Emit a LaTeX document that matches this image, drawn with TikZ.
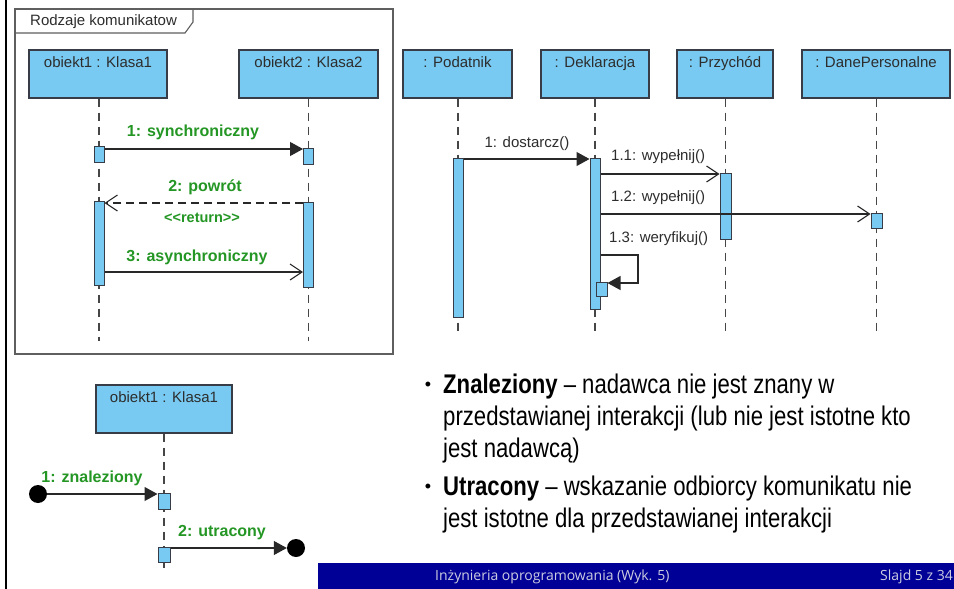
\documentclass[tikz,border=0pt]{standalone}
\usepackage{fontspec}
\setmainfont{Liberation Sans}
\newfontfamily\narrowfont[FakeStretch=0.82]{Liberation Sans}
\newfontfamily\footfont{Open Sans}
\usetikzlibrary{arrows.meta}

\definecolor{objfill}{RGB}{120,202,242}
\definecolor{objline}{RGB}{55,60,70}
\definecolor{objtext}{RGB}{45,45,45}
\definecolor{lifecol}{RGB}{70,70,70}
\definecolor{msgcol}{RGB}{40,40,40}
\definecolor{labgreen}{RGB}{36,150,36}
\definecolor{framecol}{RGB}{95,95,95}
\definecolor{footblue}{RGB}{0,0,150}
\definecolor{foottext}{RGB}{205,205,225}

\begin{document}
\begin{tikzpicture}[x=1pt,y=-1pt,
  objbox/.style={draw=objline, fill=objfill, line width=1.2pt, minimum width=#1, minimum height=48pt, inner sep=0pt},
  objlabel/.style={font=\fontsize{15}{18}\selectfont, text=objtext, inner sep=0pt, anchor=base},
  actbar/.style={draw=objline, fill=objfill, line width=1pt, minimum width=10pt, minimum height=#1, inner sep=0pt},
  lifeline/.style={draw=lifecol, line width=1.2pt, dash pattern=on 8pt off 6pt},
  msg/.style={draw=msgcol, line width=1.1pt},
  synch/.style={msg, -{Triangle[length=13pt,width=14pt]}},
  asynch/.style={msg, -{Straight Barb[length=12pt,width=16pt,line width=1.1pt]}},
  retmsg/.style={asynch, dash pattern=on 8pt off 5pt},
  greenlab/.style={font=\bfseries\fontsize{16}{19}\selectfont, text=labgreen, inner sep=0pt},
  msglab/.style={font=\fontsize{15}{18}\selectfont, text=objtext, inner sep=0pt},
  endpoint/.style={circle, fill=black, minimum size=18pt, inner sep=0pt},
  bodytext/.style={font=\narrowfont\fontsize{27}{32}\selectfont, text=black, inner sep=0pt, anchor=base west},
  bullet/.style={font=\fontsize{18}{20}\selectfont, text=black, inner sep=0pt, anchor=base},
  foottxt/.style={font=\footfont\fontsize{14}{16}\selectfont, text=foottext, inner sep=0pt, anchor=west}
]
\useasboundingbox (0,0) rectangle (954,589);
\fill[white] (0,0) rectangle (954,589);

% slide border on the left
\draw[black, line width=2.6pt] (6,0) -- (6,589);

% ---------- frame "Rodzaje komunikatow" ----------
\draw[framecol, line width=1.3pt] (15,9) rectangle (393,354);
\draw[framecol, line width=1.1pt] (15,33) -- (185,33) -- (193,22) -- (193,9);
\node[objlabel, anchor=base west] (frametitle) at (30,25) {Rodzaje komunikatow};

\node[objbox=138pt] (o1) at (98,74) {};
\node[objlabel] (o1t) at (98,67.5) {obiekt1 : Klasa1};
\node[objbox=139pt] (o2) at (308.5,74) {};
\node[objlabel] (o2t) at (308.5,67.5) {obiekt2 : Klasa2};

\coordinate (o1end) at (99,341);
\coordinate (o2end) at (308.5,341);
\draw[lifeline] (o1.south -| o1end) -- (o1end);
\draw[lifeline] (o2.south -| o2end) -- (o2end);

\node[actbar=16pt] (a1) at (99,154) {};
\node[actbar=16pt] (b1) at (308.5,156) {};
\node[actbar=84pt] (a2) at (99,243) {};
\node[actbar=85pt] (b2) at (308.5,244.5) {};

\coordinate (m1) at (0,149);
\coordinate (m2) at (0,203);
\coordinate (m3) at (0,272);
\draw[synch] (a1.east |- m1) -- (b1.west |- m1);
\draw[retmsg] (b2.west |- m2) -- (a2.east |- m2);
\draw[asynch] (a2.east |- m3) -- (b2.west |- m3);

\node[greenlab] (l1) at (193,132) {1: synchroniczny};
\node[greenlab] (l2) at (205,187) {2: powrót};
\node[greenlab, font=\bfseries\fontsize{14.5}{17}\selectfont] (l2r) at (202,218) {<\kern0pt<return>\kern0pt>};
\node[greenlab] (l3) at (197,257) {3: asynchroniczny};

% ---------- sequence: Podatnik / Deklaracja ----------
\node[objbox=109pt] (pod) at (457.5,74) {};
\node[objlabel] (podt) at (457.5,67.5) {: Podatnik};
\node[objbox=108pt] (dek) at (595,74) {};
\node[objlabel] (dekt) at (595,67.5) {: Deklaracja};
\node[objbox=96pt] (prz) at (725,74) {};
\node[objlabel] (przt) at (725,67.5) {: Przychód};
\node[objbox=148pt] (dan) at (876,74) {};
\node[objlabel] (dant) at (876,67.5) {: DanePersonalne};

\coordinate (podend) at (458,334);
\coordinate (dekend) at (595,334);
\coordinate (przend) at (725.5,334);
\coordinate (danend) at (876.5,334);
\draw[lifeline] (pod.south -| podend) -- (podend);
\draw[lifeline] (dek.south -| dekend) -- (dekend);
\draw[lifeline] (prz.south -| przend) -- (przend);
\draw[lifeline] (dan.south -| danend) -- (danend);

\node[actbar=159pt] (podbar) at (458,237.5) {};
\node[actbar=151pt] (dekbar) at (595,233.5) {};
\node[actbar=66pt, minimum width=11pt] (przbar) at (725.5,206) {};
\node[actbar=15pt, minimum width=11pt] (danbar) at (876.5,220.5) {};
\node[actbar=14pt, minimum width=11pt] (selfbar) at (601.5,289) {};

\coordinate (n1) at (0,159);
\coordinate (n11) at (0,174);
\coordinate (n12) at (0,214);
\coordinate (n13) at (0,255);
\coordinate (n13b) at (0,283);
\coordinate (loopx) at (638,0);
\draw[synch] (podbar.east |- n1) -- (dekbar.west |- n1);
\draw[asynch] (dekbar.east |- n11) -- (przbar.west |- n11);
\draw[asynch] (dekbar.east |- n12) -- (danbar.west |- n12);
\draw[msg, -{Triangle[length=13pt,width=14pt]}] (dekbar.east |- n13) -- (loopx |- n13) -- (loopx |- n13b) -- (selfbar.east |- n13b);

\node[msglab] (k1) at (527,144) {1: dostarcz()};
\node[msglab, anchor=west] (k11) at (611,157) {1.1: wypełnij()};
\node[msglab, anchor=west] (k12) at (611,198) {1.2: wypełnij()};
\node[msglab, anchor=west] (k13) at (609,239) {1.3: weryfikuj()};

% ---------- found and lost messages ----------
\node[objbox=136pt] (o3) at (164,409) {};
\node[objlabel] (o3t) at (164,402.5) {obiekt1 : Klasa1};
\coordinate (o3end) at (164,571);
\draw[lifeline] (o3.south -| o3end) -- (o3end);
\node[actbar=16pt, minimum width=12pt] (f1) at (164,501) {};
\node[actbar=15pt, minimum width=12pt] (f2) at (164,554.5) {};
\node[endpoint] (found) at (38,494) {};
\node[endpoint] (lost) at (296,548) {};
\draw[synch] (found) -- (f1.west |- found);
\draw[synch] (f2.east |- lost) -- (lost.west);
\node[greenlab] (lf) at (92,478) {1: znaleziony};
\node[greenlab] (ll) at (222,533) {2: utracony};

% ---------- explanation ----------
\node[bullet] (bul1) at (428,390) {•};
\node[bodytext] (t1a) at (443,393) {\textbf{Znaleziony} – nadawca nie jest znany w};
\node[bodytext] (t1b) at (443,425) {przedstawianej interakcji (lub nie jest istotne kto};
\node[bodytext] (t1c) at (443,457) {jest nadawcą)};
\node[bullet] (bul2) at (428,492) {•};
\node[bodytext] (t2a) at (443,495) {\textbf{Utracony} – wskazanie odbiorcy komunikatu nie};
\node[bodytext] (t2b) at (443,527) {jest istotne dla przedstawianej interakcji};

% ---------- footer ----------
\node[fill=footblue, minimum width=636pt, minimum height=26pt, inner sep=0pt, anchor=north west] (footer) at (318,563) {};
\node[foottxt] (ft1) at (435,577) {Inżynieria oprogramowania (Wyk. 5)};
\node[foottxt] (ft2) at (880,577) {Slajd 5 z 34};
\end{tikzpicture}
\end{document}
